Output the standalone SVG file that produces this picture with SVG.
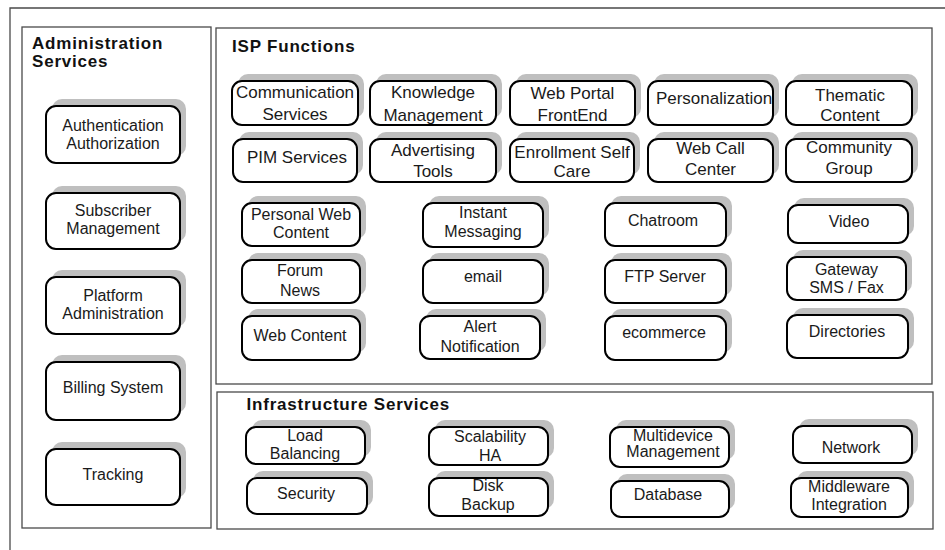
<svg xmlns="http://www.w3.org/2000/svg" width="945" height="550" viewBox="0 0 945 550">
  <style>
    .frame { fill: none; stroke: #4a4a4a; stroke-width: 1.3; }
    .shadow { fill: #bfbfbf; }
    .box { fill: #ffffff; stroke: #000000; stroke-width: 2; }
    .title { font-family: "Liberation Sans", Arial, sans-serif; font-weight: bold; font-size: 17px; letter-spacing: 0.8px; fill: #111; }
    .t { font-family: "Liberation Sans", Arial, sans-serif; text-anchor: middle; fill: #1a1a1a; }
    .s15 { font-size: 16px; }
    .s16 { font-size: 17px; }
  </style>

  <rect width="945" height="550" fill="#ffffff"/>

  <!-- outer frame (continues past the right and bottom edges) -->
  <path class="frame" d="M10,552 V8 H947"/>

  <!-- panels -->
  <rect class="frame" x="22" y="27" width="189" height="501"/>
  <rect class="frame" x="216" y="28" width="716" height="356"/>
  <rect class="frame" x="217" y="392" width="716" height="137"/>

  <text class="title" x="32" y="48.7">Administration</text>
  <text class="title" x="32" y="67.3">Services</text>
  <text class="title" x="232" y="52.3" letter-spacing="0.5">ISP Functions</text>
  <text class="title" x="246.5" y="410">Infrastructure Services</text>

  <!-- no connectors in this diagram -->
  <g id="connectors"/>

  <!-- Administration Services -->
  <g id="auth">
    <rect class="shadow" x="52" y="99" width="134" height="57" rx="10"/>
    <rect class="box" x="46" y="106" width="134" height="57" rx="10"/>
    <text class="t s15" x="113" y="130.7">Authentication</text>
    <text class="t s15" x="113" y="149.3">Authorization</text>
  </g>
  <g id="subscriber">
    <rect class="shadow" x="52" y="186" width="134" height="56" rx="10"/>
    <rect class="box" x="46" y="193" width="134" height="56" rx="10"/>
    <text class="t s15" x="113" y="216">Subscriber</text>
    <text class="t s15" x="113" y="233.7">Management</text>
  </g>
  <g id="platform">
    <rect class="shadow" x="52" y="270" width="134" height="57" rx="10"/>
    <rect class="box" x="46" y="277" width="134" height="57" rx="10"/>
    <text class="t s15" x="113" y="301">Platform</text>
    <text class="t s15" x="113" y="318.7">Administration</text>
  </g>
  <g id="billing">
    <rect class="shadow" x="52" y="355" width="134" height="58" rx="10"/>
    <rect class="box" x="46" y="362" width="134" height="58" rx="10"/>
    <text class="t s15" x="113" y="393">Billing System</text>
  </g>
  <g id="tracking">
    <rect class="shadow" x="52" y="442" width="134" height="56" rx="10"/>
    <rect class="box" x="46" y="449" width="134" height="56" rx="10"/>
    <text class="t s15" x="113" y="479.5">Tracking</text>
  </g>

  <!-- ISP Functions: first row -->
  <g id="communication">
    <rect class="shadow" x="238" y="74" width="126" height="44" rx="10"/>
    <rect class="box" x="232" y="81" width="126" height="44" rx="10"/>
    <text class="t s16" x="295" y="98">Communication</text>
    <text class="t s16" x="295" y="119.5">Services</text>
  </g>
  <g id="knowledge">
    <rect class="shadow" x="376" y="74" width="126" height="44" rx="10"/>
    <rect class="box" x="370" y="81" width="126" height="44" rx="10"/>
    <text class="t s16" x="433" y="98">Knowledge</text>
    <text class="t s16" x="433" y="120.5">Management</text>
  </g>
  <g id="webportal">
    <rect class="shadow" x="516" y="74" width="125" height="44" rx="10"/>
    <rect class="box" x="510" y="81" width="125" height="44" rx="10"/>
    <text class="t s16" x="572.5" y="99.3">Web Portal</text>
    <text class="t s16" x="572.5" y="120.7">FrontEnd</text>
  </g>
  <g id="personalization">
    <rect class="shadow" x="654" y="74" width="125" height="44" rx="10"/>
    <rect class="box" x="648" y="81" width="125" height="44" rx="10"/>
    <text class="t s16" x="714" y="104">Personalization</text>
  </g>
  <g id="thematic">
    <rect class="shadow" x="792" y="74" width="126" height="44" rx="10"/>
    <rect class="box" x="786" y="81" width="126" height="44" rx="10"/>
    <text class="t s16" x="850" y="100.7">Thematic</text>
    <text class="t s16" x="850" y="120.7">Content</text>
  </g>

  <!-- ISP Functions: second row -->
  <g id="pim">
    <rect class="shadow" x="239" y="132" width="124" height="43" rx="10"/>
    <rect class="box" x="233" y="139" width="124" height="43" rx="10"/>
    <text class="t s16" x="297" y="162.5">PIM Services</text>
  </g>
  <g id="advertising">
    <rect class="shadow" x="376" y="132" width="126" height="43" rx="10"/>
    <rect class="box" x="370" y="139" width="126" height="43" rx="10"/>
    <text class="t s16" x="433" y="156">Advertising</text>
    <text class="t s16" x="433" y="177.3">Tools</text>
  </g>
  <g id="enrollment">
    <rect class="shadow" x="516" y="132" width="124" height="43" rx="10"/>
    <rect class="box" x="510" y="139" width="124" height="43" rx="10"/>
    <text class="t s16" x="572" y="158">Enrollment Self</text>
    <text class="t s16" x="572" y="176.5">Care</text>
  </g>
  <g id="webcall">
    <rect class="shadow" x="654" y="132" width="125" height="43" rx="10"/>
    <rect class="box" x="648" y="139" width="125" height="43" rx="10"/>
    <text class="t s16" x="710.5" y="153.5">Web Call</text>
    <text class="t s16" x="710.5" y="175">Center</text>
  </g>
  <g id="community">
    <rect class="shadow" x="792" y="132" width="126" height="43" rx="10"/>
    <rect class="box" x="786" y="139" width="126" height="43" rx="10"/>
    <text class="t s16" x="849" y="153">Community</text>
    <text class="t s16" x="849" y="174">Group</text>
  </g>

  <!-- ISP Functions: third row -->
  <g id="personalweb">
    <rect class="shadow" x="248" y="196" width="118" height="43" rx="10"/>
    <rect class="box" x="242" y="203" width="118" height="43" rx="10"/>
    <text class="t s15" x="301" y="220">Personal Web</text>
    <text class="t s15" x="301" y="238.3">Content</text>
  </g>
  <g id="instant">
    <rect class="shadow" x="429" y="196" width="120" height="44" rx="10"/>
    <rect class="box" x="423" y="203" width="120" height="44" rx="10"/>
    <text class="t s15" x="483" y="218.3">Instant</text>
    <text class="t s15" x="483" y="236.7">Messaging</text>
  </g>
  <g id="chatroom">
    <rect class="shadow" x="611" y="196" width="121" height="43" rx="10"/>
    <rect class="box" x="605" y="203" width="121" height="43" rx="10"/>
    <text class="t s15" x="663" y="226">Chatroom</text>
  </g>
  <g id="video">
    <rect class="shadow" x="794" y="198" width="120" height="38" rx="10"/>
    <rect class="box" x="788" y="205" width="120" height="38" rx="10"/>
    <text class="t s15" x="849" y="227">Video</text>
  </g>

  <!-- ISP Functions: fourth row -->
  <g id="forum">
    <rect class="shadow" x="248" y="253" width="118" height="43" rx="10"/>
    <rect class="box" x="242" y="260" width="118" height="43" rx="10"/>
    <text class="t s15" x="300" y="276">Forum</text>
    <text class="t s15" x="300" y="296">News</text>
  </g>
  <g id="email">
    <rect class="shadow" x="429" y="253" width="120" height="43" rx="10"/>
    <rect class="box" x="423" y="260" width="120" height="43" rx="10"/>
    <text class="t s15" x="483" y="282">email</text>
  </g>
  <g id="ftp">
    <rect class="shadow" x="611" y="253" width="121" height="43" rx="10"/>
    <rect class="box" x="605" y="260" width="121" height="43" rx="10"/>
    <text class="t s15" x="665" y="282">FTP Server</text>
  </g>
  <g id="gateway">
    <rect class="shadow" x="793" y="250" width="119" height="43" rx="10"/>
    <rect class="box" x="787" y="257" width="119" height="43" rx="10"/>
    <text class="t s15" x="846.5" y="275">Gateway</text>
    <text class="t s15" x="846.5" y="293.3">SMS / Fax</text>
  </g>

  <!-- ISP Functions: fifth row -->
  <g id="webcontent">
    <rect class="shadow" x="248" y="309" width="118" height="44" rx="10"/>
    <rect class="box" x="242" y="316" width="118" height="44" rx="10"/>
    <text class="t s15" x="300" y="340.7">Web Content</text>
  </g>
  <g id="alert">
    <rect class="shadow" x="426" y="309" width="120" height="43" rx="10"/>
    <rect class="box" x="420" y="316" width="120" height="43" rx="10"/>
    <text class="t s15" x="480" y="331.7">Alert</text>
    <text class="t s15" x="480" y="351.7">Notification</text>
  </g>
  <g id="ecommerce">
    <rect class="shadow" x="611" y="309" width="121" height="44" rx="10"/>
    <rect class="box" x="605" y="316" width="121" height="44" rx="10"/>
    <text class="t s15" x="664" y="338.3">ecommerce</text>
  </g>
  <g id="directories">
    <rect class="shadow" x="793" y="308" width="121" height="43" rx="10"/>
    <rect class="box" x="787" y="315" width="121" height="43" rx="10"/>
    <text class="t s15" x="847" y="337.3">Directories</text>
  </g>

  <!-- Infrastructure Services -->
  <g id="loadbalancing">
    <rect class="shadow" x="252" y="420" width="119" height="37" rx="10"/>
    <rect class="box" x="246" y="427" width="119" height="37" rx="10"/>
    <text class="t s15" x="305" y="441">Load</text>
    <text class="t s15" x="305" y="459.3">Balancing</text>
  </g>
  <g id="security">
    <rect class="shadow" x="253" y="471" width="120" height="36" rx="10"/>
    <rect class="box" x="247" y="478" width="120" height="36" rx="10"/>
    <text class="t s15" x="306" y="499.3">Security</text>
  </g>
  <g id="scalability">
    <rect class="shadow" x="435" y="420" width="119" height="38" rx="10"/>
    <rect class="box" x="429" y="427" width="119" height="38" rx="10"/>
    <text class="t s15" x="490" y="441.7">Scalability</text>
    <text class="t s15" x="490" y="460.7">HA</text>
  </g>
  <g id="disk">
    <rect class="shadow" x="435" y="471" width="119" height="38" rx="10"/>
    <rect class="box" x="429" y="478" width="119" height="38" rx="10"/>
    <text class="t s15" x="488" y="491">Disk</text>
    <text class="t s15" x="488" y="510">Backup</text>
  </g>
  <g id="multidevice">
    <rect class="shadow" x="616" y="420" width="119" height="40" rx="10"/>
    <rect class="box" x="610" y="427" width="119" height="40" rx="10"/>
    <text class="t s15" x="673" y="441">Multidevice</text>
    <text class="t s15" x="673" y="457.3">Management</text>
  </g>
  <g id="database">
    <rect class="shadow" x="617" y="474" width="118" height="36" rx="10"/>
    <rect class="box" x="611" y="481" width="118" height="36" rx="10"/>
    <text class="t s15" x="668" y="500">Database</text>
  </g>
  <g id="network">
    <rect class="shadow" x="799" y="419" width="119" height="37" rx="10"/>
    <rect class="box" x="793" y="426" width="119" height="37" rx="10"/>
    <text class="t s15" x="851" y="452.7">Network</text>
  </g>
  <g id="middleware">
    <rect class="shadow" x="797" y="471" width="117" height="39" rx="10"/>
    <rect class="box" x="791" y="478" width="117" height="39" rx="10"/>
    <text class="t s15" x="849" y="491.7">Middleware</text>
    <text class="t s15" x="849" y="510">Integration</text>
  </g>
</svg>
